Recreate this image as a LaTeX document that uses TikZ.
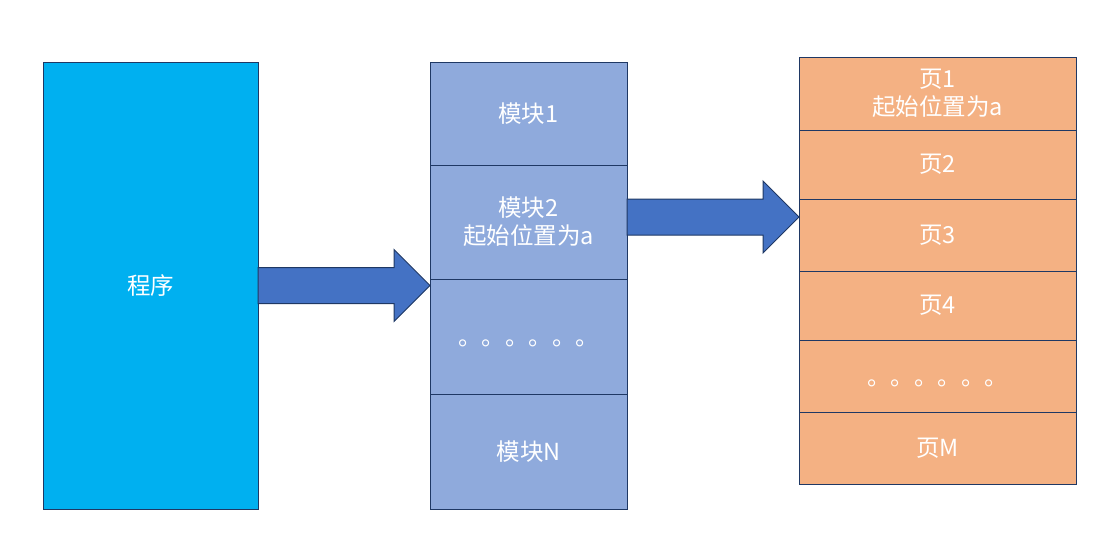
\documentclass[tikz,border=0pt]{standalone}
\usepackage{fontspec}
\setmainfont{Noto Sans CJK SC}
\usetikzlibrary{positioning,calc}
\definecolor{progblue}{HTML}{00B0F0}
\definecolor{modblue}{HTML}{8FAADC}
\definecolor{pageorange}{HTML}{F4B183}
\definecolor{arrowblue}{HTML}{4472C4}
\definecolor{edgenavy}{HTML}{1F3864}
\tikzset{
  cell/.style={draw=edgenavy, line width=1pt, outer sep=0pt, inner sep=0pt,
    text=white, align=center, font=\fontsize{23.5}{28}\selectfont},
  progbox/.style={cell, fill=progblue, minimum width=215, minimum height=447},
  modbox/.style={cell, fill=modblue, minimum width=197},
  pagebox/.style={cell, fill=pageorange, minimum width=277},
  blockarrow/.style={fill=arrowblue, draw=edgenavy, line width=1pt, line join=miter}
}
% fat block arrow from #1 to #2 (shaft 36, head 72 wide, 36 long)
\newcommand\fatarrow[2]{%
  \draw[blockarrow] ($(#1)+(0,-18)$) -- ($(#2)+(-36,-18)$) -- ($(#2)+(-36,-36)$)
    -- (#2) -- ($(#2)+(-36,36)$) -- ($(#2)+(-36,18)$) -- ($(#1)+(0,18)$) -- cycle;}
\newcommand\dotrow{\raisebox{-7pt}[\height][\depth]{。。。。。。}}
\begin{document}
\begin{tikzpicture}[x=1pt,y=-1pt]
\useasboundingbox (0,0) rectangle (1112,544);
% program
\node[progbox, anchor=north west] (prog) at (43,62) {程序};
% modules
\node[modbox, minimum height=103, anchor=north west] (m1) at (430,62) {模块1};
\node[modbox, minimum height=114, below=0pt of m1] (m2) {模块2\\起始位置为a};
\node[modbox, minimum height=115, below=0pt of m2] (m3) {\dotrow};
\node[modbox, minimum height=115, below=0pt of m3] (mn) {模块N};
% pages
\node[pagebox, minimum height=73, anchor=north west] (p1) at (799,57) {页1\\起始位置为a};
\node[pagebox, minimum height=69, below=0pt of p1] (p2) {页2};
\node[pagebox, minimum height=72, below=0pt of p2] (p3) {页3};
\node[pagebox, minimum height=69, below=0pt of p3] (p4) {页4};
\node[pagebox, minimum height=72, below=0pt of p4] (p5) {\dotrow};
\node[pagebox, minimum height=72, below=0pt of p5] (pm) {页M};
% arrows
\coordinate (a1) at (m1.west |- prog.east);
\coordinate (b1) at ($(p3.north west)+(0,18)$);
\coordinate (b0) at (m2.east |- b1);
\fatarrow{prog.east}{a1}
\fatarrow{b0}{b1}
\end{tikzpicture}
\end{document}
